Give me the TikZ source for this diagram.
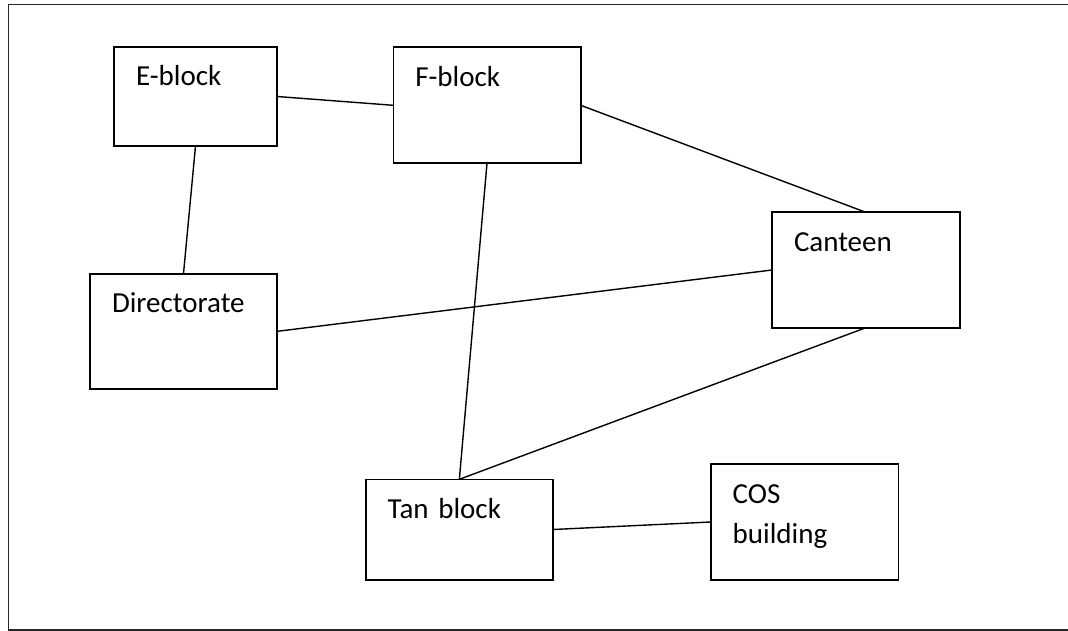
\documentclass[tikz,border=0pt]{standalone}
\usepackage{fontspec}
\setmainfont{Carlito}
\begin{document}
\begin{tikzpicture}[x=1pt,y=-1pt,
  blk/.style={draw=black, line width=1.6pt, shape=rectangle, anchor=north west,
    inner xsep=22pt, inner ysep=0pt, outer sep=0pt, align=left,
    text height=39pt,
    font=\fontsize{29}{40.6}\selectfont},
  link/.style={draw=black, line width=1.4pt}]
  \useasboundingbox (0,0) rectangle (1068,631);
  \clip (0,0) rectangle (1068,631);
  % page frame (right side runs off the page)
  \draw[line width=1.6pt, black!85] (1075,4.5) -- (8.5,4.5) -- (8.5,630) -- (1075,630);

  % buildings
  \node[blk, text width=119pt,   text depth=60pt]   (E)   at (114,47)    {E-block};
  \node[blk, text width=143.4pt, text depth=77pt]   (F)   at (393.3,47.3) {F-block};
  \node[blk, text width=143.7pt, text depth=76.4pt] (C)   at (772,212.3) {Canteen};
  \node[blk, text width=143pt,   text depth=76.3pt] (D)   at (90,273.7)  {Directorate};
  \node[blk, text width=143.3pt, text depth=61.4pt] (T)   at (365.7,479.3) {Tan block};
  \node[blk, text width=143.6pt, text depth=77pt]   (COS) at (710.7,464) {COS\\building};

  % paths between buildings
  \draw[link] (E.east) -- (F.west);
  \draw[link] (E.south) -- (D.north);
  \draw[link] (F.east) -- (C.north);
  \draw[link] (F.south) -- (T.north);
  \draw[link] (D.east) -- (C.west);
  \draw[link] (C.south) -- (T.north);
  \draw[link] (T.east) -- (COS.west);
\end{tikzpicture}
\end{document}
